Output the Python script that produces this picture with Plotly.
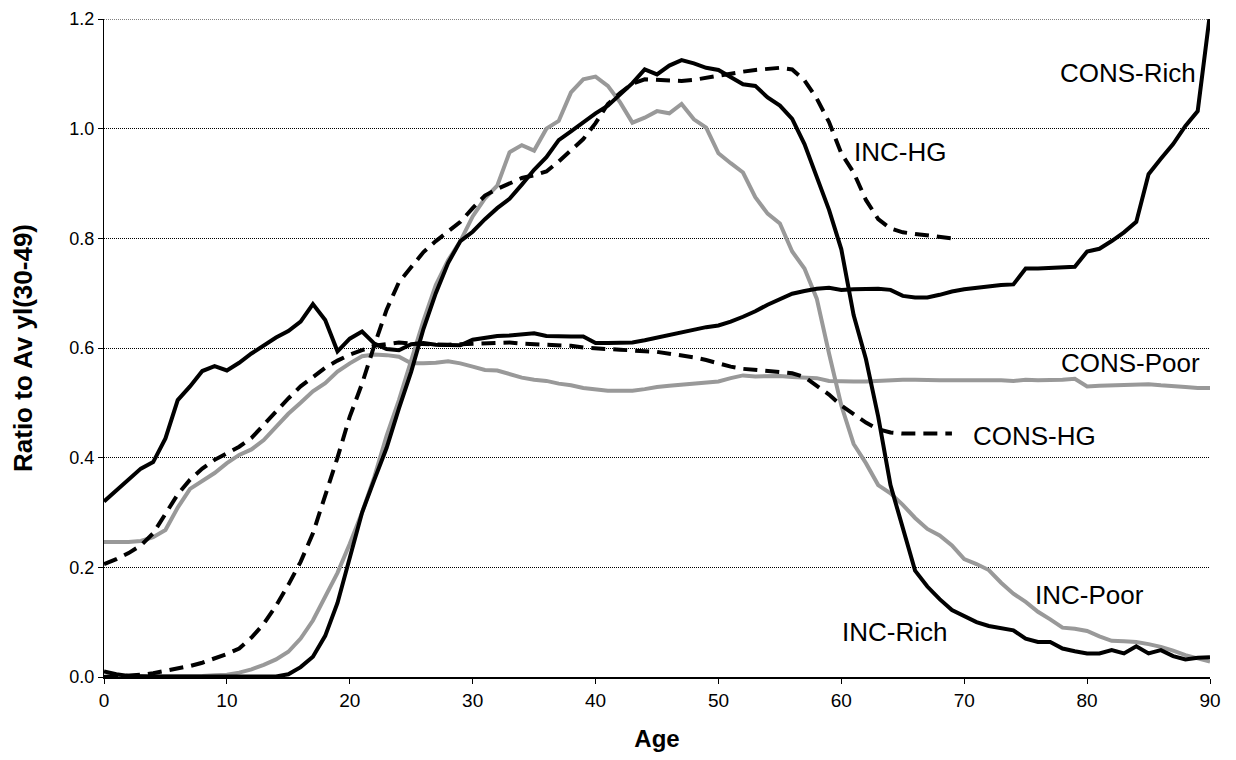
import plotly.graph_objects as go

ages = list(range(0, 91))
ages_hg = list(range(0, 70))

y_tick_vals = [0.0, 0.2, 0.4, 0.6, 0.8, 1.0, 1.2]
y_tick_text = ["0.0", "0.2", "0.4", "0.6", "0.8", "1.0", "1.2"]
x_tick_vals = [0, 10, 20, 30, 40, 50, 60, 70, 80, 90]

cons_rich = [0.32, 0.34, 0.36, 0.38, 0.392, 0.435, 0.505, 0.53, 0.558, 0.567,
             0.559, 0.573, 0.59, 0.605, 0.619, 0.631, 0.648, 0.68, 0.651, 0.594,
             0.617, 0.63, 0.608, 0.598, 0.596, 0.607, 0.609, 0.606, 0.606, 0.605,
             0.615, 0.619, 0.622, 0.623, 0.625, 0.627, 0.622, 0.621, 0.621, 0.621,
             0.609, 0.609, 0.609, 0.61, 0.614, 0.619, 0.623, 0.628, 0.634, 0.638,
             0.641, 0.648, 0.657, 0.667, 0.679, 0.69, 0.699, 0.704, 0.708, 0.71,
             0.706, 0.707, 0.708, 0.708, 0.706, 0.695, 0.692, 0.692, 0.697, 0.703,
             0.707, 0.71, 0.713, 0.715, 0.716, 0.745, 0.745, 0.746, 0.747, 0.748,
             0.776, 0.781, 0.795, 0.811, 0.83, 0.917, 0.945, 0.972, 1.005, 1.032,
             1.21]

cons_poor = [0.246, 0.246, 0.246, 0.248, 0.255, 0.268, 0.309, 0.343, 0.358, 0.372,
             0.39, 0.405, 0.415, 0.432, 0.456, 0.48, 0.5, 0.521, 0.536, 0.557,
             0.572, 0.585, 0.588, 0.587, 0.584, 0.572, 0.572, 0.573, 0.576, 0.572,
             0.566, 0.56, 0.559, 0.553, 0.546, 0.542, 0.54, 0.535, 0.532, 0.527,
             0.524, 0.522, 0.522, 0.522, 0.525, 0.529, 0.531, 0.533, 0.534, 0.536,
             0.539, 0.545, 0.55, 0.548, 0.548, 0.549, 0.547, 0.546, 0.545, 0.54,
             0.539, 0.539, 0.539, 0.54, 0.542, 0.542, 0.542, 0.541, 0.541, 0.541,
             0.541, 0.542, 0.542, 0.541, 0.54, 0.542, 0.541, 0.541, 0.542, 0.544,
             0.53, 0.531, 0.532, 0.532, 0.533, 0.534, 0.532, 0.531, 0.529, 0.527,
             0.527]

cons_hg = [0.206, 0.215, 0.226, 0.24, 0.262, 0.296, 0.333, 0.36, 0.38, 0.396,
           0.408, 0.42, 0.436, 0.46, 0.485, 0.508, 0.53, 0.548, 0.564, 0.577,
           0.588, 0.596, 0.604, 0.607, 0.61, 0.608, 0.607, 0.606, 0.606, 0.607,
           0.608, 0.609, 0.61, 0.61, 0.608, 0.607, 0.606, 0.605, 0.604, 0.601,
           0.599, 0.598, 0.597, 0.595, 0.594, 0.593, 0.59, 0.587, 0.583, 0.578,
           0.572, 0.566, 0.562, 0.56, 0.558, 0.557, 0.554, 0.547, 0.532, 0.515,
           0.495, 0.48, 0.464, 0.452, 0.446, 0.444, 0.444, 0.444, 0.444, 0.444]

inc_rich = [0.01, 0.005, 0.002, 0.001, 0.001, 0.001, 0.001, 0.001, 0.001, 0.001,
            0.001, 0.001, 0.001, 0.001, 0.001, 0.005, 0.018, 0.037, 0.075, 0.135,
            0.22, 0.3, 0.36, 0.418, 0.49, 0.557, 0.635, 0.7, 0.755, 0.795,
            0.812, 0.835, 0.855, 0.872, 0.898, 0.925, 0.948, 0.979, 0.995, 1.012,
            1.028, 1.042, 1.063, 1.083, 1.108, 1.099, 1.115, 1.125, 1.119, 1.111,
            1.107, 1.094, 1.081, 1.078, 1.057, 1.042, 1.018, 0.972, 0.914, 0.852,
            0.78, 0.66, 0.58, 0.475, 0.35, 0.27, 0.194, 0.165, 0.142, 0.122,
            0.112, 0.1, 0.093, 0.089, 0.085, 0.07, 0.064, 0.064, 0.052, 0.047,
            0.043, 0.043, 0.049, 0.043, 0.056, 0.043, 0.049, 0.038, 0.032, 0.035,
            0.036]

inc_poor = [0.001, 0.001, 0.001, 0.001, 0.001, 0.001, 0.001, 0.001, 0.002, 0.003,
            0.004, 0.008, 0.014, 0.022, 0.032, 0.046, 0.07, 0.103, 0.145, 0.19,
            0.243, 0.3, 0.365, 0.44, 0.505, 0.58, 0.65, 0.715, 0.76, 0.795,
            0.84, 0.873, 0.896, 0.957, 0.97, 0.96, 1.0, 1.014, 1.066, 1.09,
            1.095, 1.078, 1.048, 1.011, 1.02, 1.032, 1.028, 1.045, 1.017, 1.002,
            0.955, 0.937, 0.92, 0.875, 0.845, 0.827, 0.776, 0.745, 0.69, 0.59,
            0.495, 0.425, 0.39, 0.35, 0.335, 0.314, 0.29, 0.27, 0.258, 0.24,
            0.215, 0.206, 0.195, 0.172, 0.152, 0.137, 0.119, 0.105, 0.09, 0.088,
            0.084, 0.074, 0.066, 0.065, 0.064, 0.06, 0.055, 0.048, 0.04, 0.034,
            0.028]

inc_hg = [0.0, 0.001, 0.002, 0.004, 0.007, 0.011, 0.015, 0.02, 0.026, 0.034,
          0.042, 0.052, 0.072, 0.097, 0.13, 0.168, 0.21, 0.262, 0.33, 0.40,
          0.475, 0.535, 0.605, 0.67, 0.72, 0.748, 0.775, 0.795, 0.812, 0.83,
          0.855, 0.878, 0.89, 0.9, 0.91, 0.915, 0.922, 0.94, 0.96, 0.981,
          1.01, 1.045, 1.065, 1.082, 1.09, 1.089, 1.088, 1.087, 1.089, 1.093,
          1.097, 1.1, 1.104, 1.107, 1.109, 1.111, 1.108, 1.088, 1.055, 1.012,
          0.955, 0.92, 0.87, 0.835, 0.818, 0.811, 0.808, 0.805, 0.802, 0.80]

labels = ["CONS-Rich", "INC-HG", "CONS-Poor", "CONS-HG", "INC-Poor", "INC-Rich"]
label_x = [83.3, 64.8, 83.5, 75.7, 80.2, 64.3]
label_y = [1.102, 0.957, 0.572, 0.439, 0.149, 0.082]

GRAY = "#999999"
BLACK = "#000000"
W = 4

fig = go.Figure()
series = [
    (ages, inc_poor, GRAY, "solid", "INC-Poor"),
    (ages, cons_poor, GRAY, "solid", "CONS-Poor"),
    (ages_hg, cons_hg, BLACK, "14px,8px", "CONS-HG"),
    (ages_hg, inc_hg, BLACK, "14px,8px", "INC-HG"),
    (ages, cons_rich, BLACK, "solid", "CONS-Rich"),
    (ages, inc_rich, BLACK, "solid", "INC-Rich"),
]
for xs, ys, col, dash, name in series:
    fig.add_trace(go.Scatter(x=xs, y=ys, mode="lines", name=name,
                             line=dict(color=col, width=W, dash=dash)))

for t, lx, ly in zip(labels, label_x, label_y):
    fig.add_annotation(x=lx, y=ly, text=t, showarrow=False,
                       font=dict(family="Arial, Liberation Sans", size=26, color="#000"),
                       xanchor="center", yanchor="middle")

# top gridline (the one at the upper edge of the plot area)
fig.add_hline(y=y_tick_vals[-1], line=dict(color="#000", width=1, dash="1px,1px"), layer="below")

fig.update_layout(
    width=1228, height=752,
    margin=dict(l=96, r=26, t=11, b=83, autoexpand=False),
    paper_bgcolor="white", plot_bgcolor="white",
    showlegend=False,
    font=dict(family="Arial, Liberation Sans", color="#000"),
)
fig.update_xaxes(
    range=[0, 90], tickmode="array", tickvals=x_tick_vals,
    showline=True, linecolor="#000", linewidth=2,
    ticks="outside", ticklen=5, tickcolor="#000", tickwidth=1,
    showgrid=False, zeroline=False, automargin=False,
    tickfont=dict(size=19), ticklabeloverflow="allow",
    title=dict(text="<b>Age</b>", font=dict(size=24), standoff=20),
)
fig.update_yaxes(
    range=[0, 1.2], tickmode="array", tickvals=y_tick_vals, ticktext=y_tick_text,
    showline=True, linecolor="#000", linewidth=1,
    ticks="outside", ticklen=5, tickcolor="#000", tickwidth=1,
    showgrid=True, gridcolor="#000", gridwidth=1, griddash="1px,1px",
    zeroline=False, automargin=False,
    tickfont=dict(size=18), ticklabeloverflow="allow",
    title=dict(text="<b>Ratio to Av yl(30-49)</b>", font=dict(size=26), standoff=30),
)

fig.write_html("out.html")
